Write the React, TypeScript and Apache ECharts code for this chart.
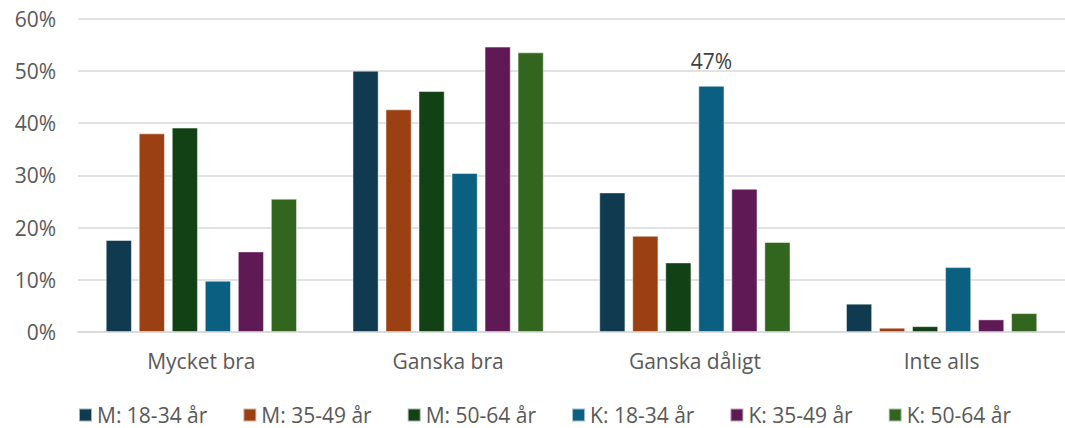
import React, { useEffect, useRef } from "react";
import * as echarts from "echarts";

const categories = ["Mycket bra", "Ganska bra", "Ganska dåligt", "Inte alls"];
const seriesNames = ["M: 18-34 år", "M: 35-49 år", "M: 50-64 år", "K: 18-34 år", "K: 35-49 år", "K: 50-64 år"];
const m1834 = [17.6, 50.0, 26.7, 5.4];
const m3549 = [38.0, 42.6, 18.4, 0.8];
const m5064 = [39.1, 46.1, 13.3, 1.1];
const k1834 = [9.8, 30.4, 47.1, 12.4];
const k3549 = [15.4, 54.6, 27.4, 2.4];
const k5064 = [25.5, 53.5, 17.2, 3.6];
const colors = ["#0F3A50", "#9A4012", "#124116", "#0B5F80", "#5F1A55", "#32651E"];
const yTicks = [0, 10, 20, 30, 40, 50, 60];
const labelled = { series: 3, index: 2 };

export default function App() {
  const ref = useRef<HTMLDivElement>(null);
  useEffect(() => {
    if (!ref.current) return;
    const chart = echarts.init(ref.current, null, { renderer: "svg" });
    const all = [m1834, m3549, m5064, k1834, k3549, k5064];
    const font = "'Open Sans', sans-serif";
    chart.setOption({
      animation: false,
      color: colors,
      textStyle: { fontFamily: font },
      grid: { left: 78, right: -11, top: 18.5, bottom: 96, containLabel: false },
      legend: {
        top: 400,
        left: 73,
        padding: [3, 5, 3, 5],
        itemWidth: 13,
        itemHeight: 13,
        itemGap: 35,
        icon: "rect",
        textStyle: { fontSize: 21, color: "#595959", fontFamily: font, lineHeight: 24 },
        data: seriesNames,
      },
      xAxis: {
        type: "category",
        data: categories,
        axisLine: { lineStyle: { color: "#D9D9D9", width: 1.5 } },
        axisTick: { show: false },
        axisLabel: { fontSize: 21, color: "#595959", margin: 18 },
      },
      yAxis: {
        type: "value",
        min: yTicks[0],
        max: yTicks[yTicks.length - 1],
        interval: 10,
        axisLabel: { fontSize: 21, color: "#595959", formatter: "{value}%", margin: 22 },
        splitLine: { lineStyle: { color: "#D9D9D9", width: 1.5 } },
        axisLine: { show: false },
        axisTick: { show: false },
      },
      series: all.map((d, i) => ({
        name: seriesNames[i],
        type: "bar",
        barWidth: 26,
        barGap: "27%",
        itemStyle: { borderColor: "rgba(255,255,255,0.6)", borderWidth: 0.8 },
        data: d.map((v, j) =>
          i === labelled.series && j === labelled.index
            ? {
                value: v,
                label: {
                  show: true,
                  position: "top",
                  distance: 14,
                  formatter: (p: any) => Math.round(p.value) + "%",
                  fontSize: 21,
                  color: "#404040",
                  fontFamily: font,
                },
              }
            : v
        ),
      })),
    });
    return () => chart.dispose();
  }, []);
  return <div ref={ref} style={{ position: "absolute", left: 0, top: 0, width: 1065, height: 428, background: "#fff" }} />;
}
